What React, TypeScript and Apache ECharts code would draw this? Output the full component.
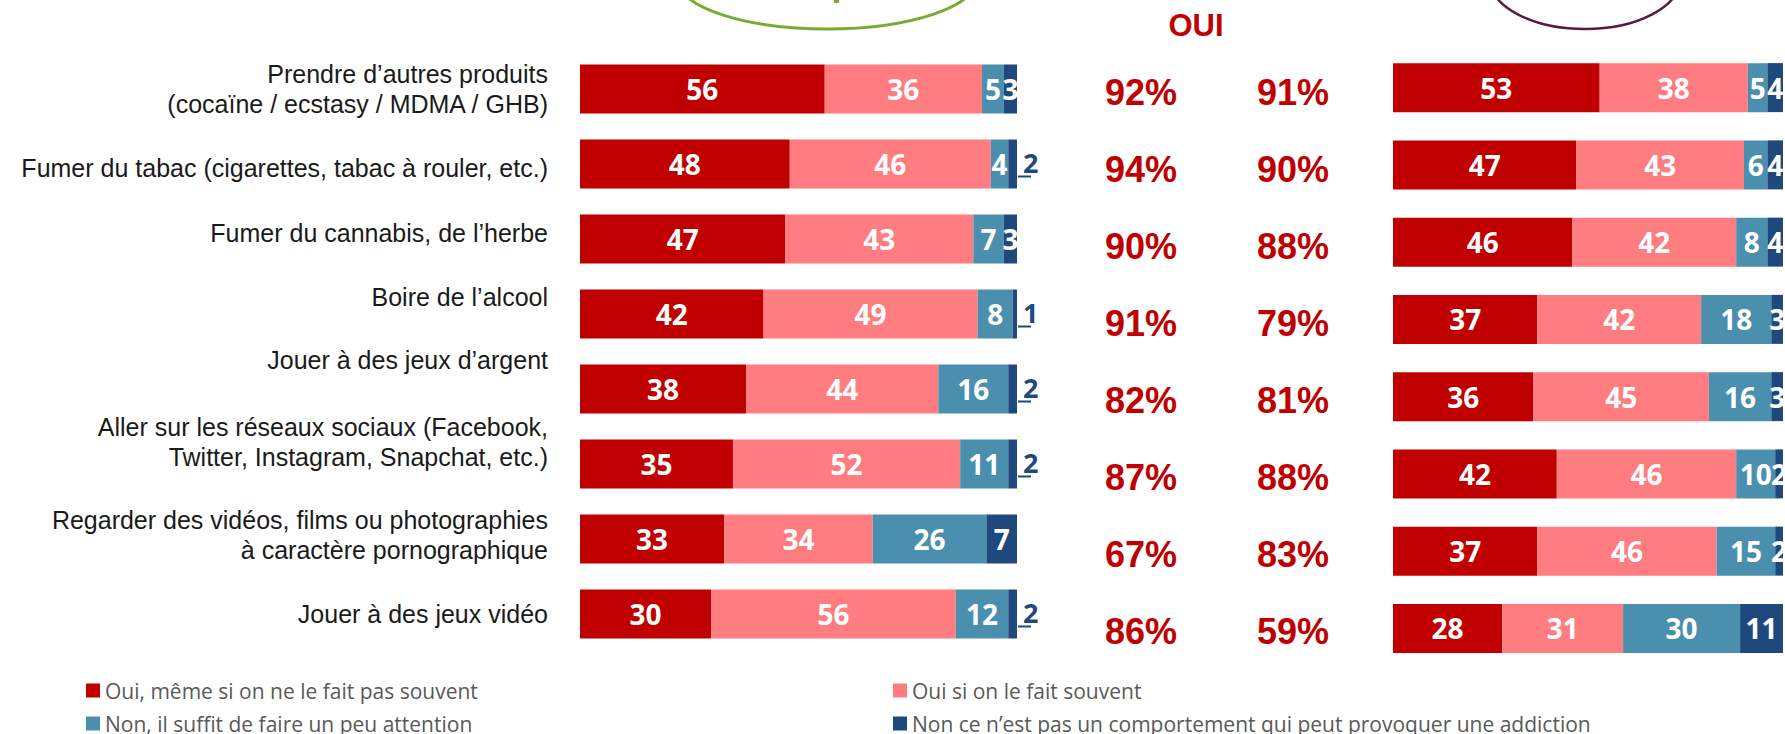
import React, { useEffect, useRef } from "react";
import * as echarts from "echarts";

const categories = [
  "Prendre d’autres produits\n(cocaïne / ecstasy / MDMA / GHB)",
  "Fumer du tabac (cigarettes, tabac à rouler, etc.)",
  "Fumer du cannabis, de l’herbe",
  "Boire de l’alcool",
  "Jouer à des jeux d’argent",
  "Aller sur les réseaux sociaux (Facebook,\nTwitter, Instagram, Snapchat, etc.)",
  "Regarder des vidéos, films ou photographies\nà caractère pornographique",
  "Jouer à des jeux vidéo",
];

const seriesNames = [
  "Oui, même si on ne le fait pas souvent",
  "Oui si on le fait souvent",
  "Non, il suffit de faire un peu attention",
  "Non ce n’est pas un comportement qui peut provoquer une addiction",
];

const leftOuiMemePeu = [56, 48, 47, 42, 38, 35, 33, 30];
const leftOuiSouvent = [36, 46, 43, 49, 44, 52, 34, 56];
const leftNonAttention = [5, 4, 7, 8, 16, 11, 26, 12];
const leftNonPas = [3, 2, 3, 1, 2, 2, 7, 2];

const rightOuiMemePeu = [53, 47, 46, 37, 36, 42, 37, 28];
const rightOuiSouvent = [38, 43, 42, 42, 45, 46, 46, 31];
const rightNonAttention = [5, 6, 8, 18, 16, 10, 15, 30];
const rightNonPas = [4, 4, 4, 3, 3, 2, 2, 11];

const totalOuiLeft = [92, 94, 90, 91, 82, 87, 67, 86];
const totalOuiRight = [91, 90, 88, 79, 81, 88, 83, 59];

const headerText = "OUI";

// layout: vertical shift (px, positive = up) of each category label relative to its bar
const labelShift = [0, -3.5, 6, 17, 29, 22, 4, 0];

const colors = ["#c00000", "#ff7c80", "#4a8fad", "#1f497d"];

export default function App() {
  const ref = useRef<HTMLDivElement>(null);

  useEffect(() => {
    if (!ref.current) return;
    const chart = echarts.init(ref.current, null, { renderer: "svg" });

    const rich: Record<string, any> = {};
    labelShift.forEach((s, i) => {
      if (s !== 0) {
        const h = Math.abs(s) * 2;
        rich["g" + i] = { height: h, lineHeight: h, width: 0 };
      }
    });

    const barLabel = {
      show: true,
      position: "inside",
      color: "#ffffff",
      fontFamily: "Open Sans",
      fontWeight: "bold",
      fontSize: 28,
    };

    const outsideLabel = {
      show: true,
      position: "right",
      distance: 1,
      align: "left",
      formatter: (p: any) => "{v|" + p.value + "}\n{u|}",
      rich: {
        v: {
          color: colors[3],
          fontFamily: "Open Sans",
          fontWeight: "bold",
          fontSize: 27,
          lineHeight: 25,
          padding: [0, 0, 0, 5],
        },
        u: { width: 13, height: 2, lineHeight: 4, backgroundColor: colors[3] },
      },
    };

    const mkBar = (
      name: string,
      data: any[],
      idx: number,
      stack: string,
      color: string
    ) => ({
      name,
      type: "bar",
      stack,
      xAxisIndex: idx,
      yAxisIndex: idx,
      barWidth: 49,
      data,
      itemStyle: { color },
      label: barLabel,
    });

    const leftSets = [leftOuiMemePeu, leftOuiSouvent, leftNonAttention, leftNonPas];
    const rightSets = [rightOuiMemePeu, rightOuiSouvent, rightNonAttention, rightNonPas];

    const series: any[] = [];
    leftSets.forEach((arr, k) => {
      const data =
        k === 3
          ? arr.map((v) => (v <= 2 ? { value: v, label: outsideLabel } : v))
          : arr;
      series.push(mkBar(seriesNames[k], data, 0, "L", colors[k]));
    });
    rightSets.forEach((arr, k) => {
      series.push(mkBar(seriesNames[k], arr, 1, "R", colors[k]));
    });

    const pctLabel = {
      show: true,
      position: "inside",
      color: "#c00000",
      textBorderWidth: 0,
      textBorderColor: "transparent",
      opacity: 1,
      fontFamily: "Liberation Sans",
      fontWeight: "bold",
      fontSize: 36,
      formatter: (p: any) => p.value[2] + "%",
    };
    const mkPct = (name: string, arr: number[], col: number) => ({
      name,
      type: "scatter",
      xAxisIndex: 2,
      yAxisIndex: 2,
      symbolSize: 0,
      itemStyle: { color: "#c00000", opacity: 1 },
      data: arr.map((v, i) => [col, i, v]),
      label: pctLabel,
      emphasis: { disabled: true },
    });
    series.push(mkPct("Total OUI gauche", totalOuiLeft, 0));
    series.push(mkPct("Total OUI droite", totalOuiRight, 1));

    const legendPos = [
      { left: 86, top: 680 },
      { left: 893, top: 680 },
      { left: 86, top: 713 },
      { left: 893, top: 713 },
    ];

    const option: any = {
      animation: false,
      backgroundColor: "#ffffff",
      grid: [
        { left: 580, top: 51.5, width: 437, height: 600 },
        { left: 1393, top: 49, width: 390, height: 618 },
        { left: 1141, top: 53.5, width: 152, height: 616 },
      ],
      xAxis: [
        { gridIndex: 0, type: "value", min: 0, max: 100, show: false },
        { gridIndex: 1, type: "value", min: 0, max: 100, show: false },
        { gridIndex: 2, type: "value", min: 0, max: 1, show: false },
      ],
      yAxis: [
        {
          gridIndex: 0,
          type: "category",
          data: categories,
          inverse: true,
          axisLine: { show: false },
          axisTick: { show: false },
          splitLine: { show: false },
          axisLabel: {
            interval: 0,
            margin: 32,
            align: "right",
            color: "#1a1a1a",
            fontFamily: "Liberation Sans",
            fontSize: 25,
            lineHeight: 30,
            rich,
            formatter: (value: string, index: number) => {
              const s = labelShift[index];
              if (s > 0) return value + "\n{g" + index + "|}";
              if (s < 0) return "{g" + index + "|}\n" + value;
              return value;
            },
          },
        },
        {
          gridIndex: 1,
          type: "category",
          data: categories,
          inverse: true,
          show: false,
        },
        {
          gridIndex: 2,
          type: "category",
          data: categories,
          inverse: true,
          show: false,
        },
      ],
      legend: seriesNames.map((n, i) => ({
        data: [n],
        left: legendPos[i].left,
        top: legendPos[i].top,
        padding: 0,
        itemWidth: 14,
        itemHeight: 14,
        icon: "rect",
        selectedMode: false,
        textStyle: {
          color: "#595959",
          fontFamily: "Open Sans",
          fontSize: 21,
        },
      })),
      graphic: [
        {
          type: "ellipse",
          shape: { cx: 827, cy: -21, rx: 150, ry: 50 },
          style: { fill: "none", stroke: "#77ac33", lineWidth: 3 },
        },
        {
          type: "rect",
          shape: { x: 834, y: 0, width: 5, height: 3 },
          style: { fill: "#77ac33" },
        },
        {
          type: "ellipse",
          shape: { cx: 1585, cy: -21, rx: 95, ry: 50 },
          style: { fill: "none", stroke: "#5a1a3c", lineWidth: 2.5 },
        },
        {
          type: "text",
          x: 1196,
          y: 25,
          style: {
            text: headerText,
            fill: "#c00000",
            fontFamily: "Liberation Sans",
            fontWeight: "bold",
            fontSize: 31,
            align: "center",
            verticalAlign: "middle",
          },
        },
      ],
      series,
    };

    chart.setOption(option);
    return () => chart.dispose();
  }, []);

  return (
    <div
      ref={ref}
      style={{ position: "absolute", left: 0, top: 0, width: 1785, height: 734 }}
    />
  );
}
